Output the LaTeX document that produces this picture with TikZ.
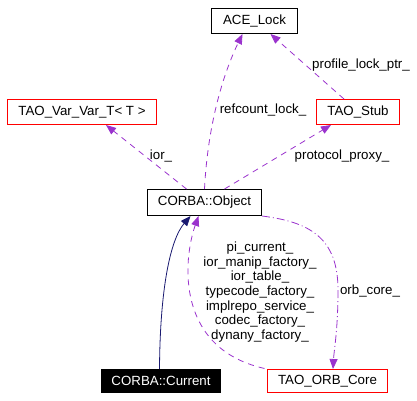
\documentclass[tikz,border=0pt]{standalone}
\usepackage{fontspec}
\setmainfont{Liberation Sans}
\usetikzlibrary{arrows.meta}
\definecolor{edgepurple}{HTML}{9A32CD}
\definecolor{edgenavy}{HTML}{191970}
\begin{document}
\begin{tikzpicture}[x=1pt,y=-1pt,
  every node/.style={font=\fontsize{13.3}{14.7}\selectfont, inner sep=0pt},
  cls/.style={draw=black, line width=1pt, rectangle, minimum height=25pt},
  redcls/.style={cls, draw=red},
  curcls/.style={cls, fill=black, text=white},
  usearrow/.style={draw=edgepurple, line width=0.8pt, dash pattern=on 6pt off 5pt,
     -{Triangle[length=10pt,width=8pt]}},
  dotarrow/.style={usearrow, dash pattern=on 8pt off 3pt on 1pt off 3pt},
  inharrow/.style={draw=edgenavy, line width=0.8pt, -{Triangle[length=10pt,width=8pt]}},
  lbl/.style={align=center}
]
\useasboundingbox (0,0) rectangle (417,400);
\node[cls, minimum width=86pt] (ace) at (254.5,21) {ACE\_Lock};
\node[redcls, minimum width=149pt] (varvar) at (82,112) {TAO\_Var\_Var\_T< T >};
\node[redcls, minimum width=83pt] (stub) at (358,112) {TAO\_Stub};
\node[cls, minimum width=114pt, minimum height=26pt] (obj) at (204.5,202.5) {CORBA::Object};
\node[curcls, minimum width=119pt, minimum height=23pt] (cur) at (161,381) {CORBA::Current};
\node[redcls, minimum width=120pt, minimum height=23pt] (orb) at (327.5,381) {TAO\_ORB\_Core};

% edges
\draw[inharrow] ([xshift=-1.5]cur.north) .. controls (160,290) and (170,240) .. ([xshift=-14]obj.south);
\draw[usearrow, {Triangle[length=10pt,width=8pt]}-] ([xshift=-6]obj.south) .. controls (183,260) and (175,350) .. (orb.north west);
\draw[dotarrow] (obj.south east) .. controls (310,222) and (338,238) .. (338,290) .. controls (338,330) and (334,350) .. ([xshift=5.5]orb.north);
\draw[usearrow] ([xshift=-18]obj.north) -- ([xshift=24]varvar.south);
\draw[usearrow] (obj.north) .. controls (208,120) and (225,70) .. ([xshift=-12]ace.south);
\draw[usearrow] ([xshift=20]obj.north) -- ([xshift=-27]stub.south);
\draw[usearrow] ([xshift=-14]stub.north) -- ([xshift=16]ace.south);

% labels
\node[lbl] (lprof) at (361,65) {profile\_lock\_ptr\_};
\node[lbl] (lref) at (263,110) {refcount\_lock\_};
\node[lbl] (lior) at (161,156) {ior\_};
\node[lbl] (lproto) at (342,156) {protocol\_proxy\_};
\node[lbl] (lmulti) at (260,292) {pi\_current\_\\ior\_manip\_factory\_\\ior\_table\_\\typecode\_factory\_\\implrepo\_service\_\\codec\_factory\_\\dynany\_factory\_};
\node[lbl] (lorb) at (370,291) {orb\_core\_};
\end{tikzpicture}
\end{document}
